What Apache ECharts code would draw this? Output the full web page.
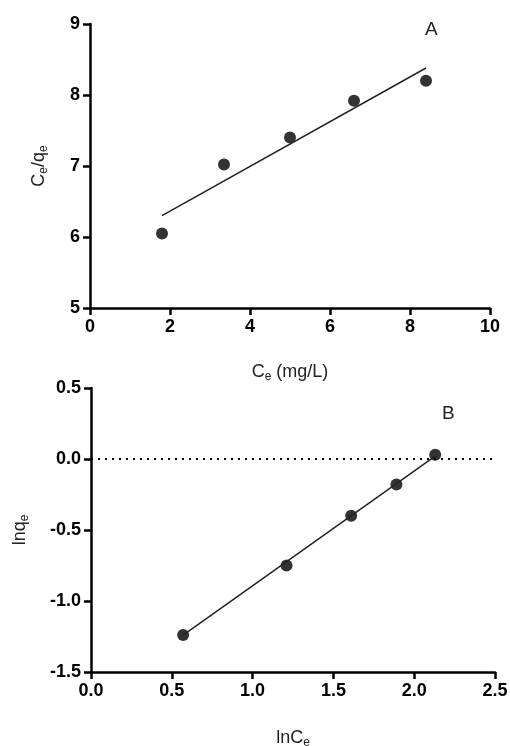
<!DOCTYPE html>
<html><head><meta charset="utf-8">
<script src="https://cdn.jsdelivr.net/npm/echarts@6/dist/echarts.min.js"></script>
<style>html,body{margin:0;background:#fff}#c{width:510px;height:746px}</style>
</head><body><div id="c"></div>
<script>
// Panel A: Langmuir
const ceA = [1.8, 3.35, 5.0, 6.6, 8.4];
const ceqeA = [6.05, 7.02, 7.4, 7.92, 8.2];
const fitA = [[1.8, 6.3], [8.4, 8.38]];
// Panel B: Freundlich
const lnCe = [0.57, 1.21, 1.61, 1.89, 2.13];
const lnQe = [-1.24, -0.75, -0.40, -0.18, 0.03];
const fitB = [[0.57, -1.24], [2.13, 0.02]];

const font = 'Arial, Liberation Sans, sans-serif';
const axisLine = { show: true, onZero: false, lineStyle: { color: '#000', width: 2.5 } };
const tick = { show: true, inside: false, length: 7, lineStyle: { color: '#000', width: 2.5 } };
const lbl = { color: '#000', fontSize: 18, fontWeight: 'bold', fontFamily: font, margin: 10 };
const rich = { s: { fontSize: 12, verticalAlign: 'bottom', padding: [9, 0, 0, 0], color: '#222', fontFamily: font } };
const nameStyle = { color: '#222', fontSize: 18, fontFamily: font, rich: rich };
const fmt1 = Object.assign({}, lbl, { formatter: v => v.toFixed(1) });

const chart = echarts.init(document.getElementById('c'));
chart.setOption({
  animation: false,
  grid: [
    { left: 90, right: 20, top: 24, bottom: 438, outerBoundsMode: 'none', containLabel: false },
    { left: 91, right: 15, top: 388, bottom: 74, outerBoundsMode: 'none', containLabel: false }
  ],
  xAxis: [
    { gridIndex: 0, type: 'value', min: 0, max: 10, interval: 2, axisLine, axisTick: tick, axisLabel: lbl, splitLine: { show: false },
      name: 'C{s|e} (mg/L)', nameLocation: 'middle', nameGap: 54, nameTextStyle: nameStyle },
    { gridIndex: 1, type: 'value', min: 0, max: 2.5, interval: 0.5, axisLine, axisTick: tick, axisLabel: fmt1, splitLine: { show: false },
      name: 'lnC{s|e}', nameLocation: 'middle', nameGap: 56, nameTextStyle: nameStyle }
  ],
  yAxis: [
    { gridIndex: 0, type: 'value', min: 5, max: 9, interval: 1, axisLine, axisTick: tick, axisLabel: lbl, splitLine: { show: false },
      name: 'C{s|e}/q{s|e}', nameLocation: 'middle', nameGap: 40, nameTextStyle: nameStyle },
    { gridIndex: 1, type: 'value', min: -1.5, max: 0.5, interval: 0.5, axisLine, axisTick: tick, axisLabel: fmt1, splitLine: { show: false },
      name: 'lnq{s|e}', nameLocation: 'middle', nameGap: 60, nameTextStyle: nameStyle }
  ],
  series: [
    { type: 'line', xAxisIndex: 0, yAxisIndex: 0, data: fitA, symbol: 'none', lineStyle: { color: '#222', width: 1.5 } },
    { type: 'scatter', xAxisIndex: 0, yAxisIndex: 0, data: ceA.map((x, i) => [x, ceqeA[i]]), symbolSize: 12, itemStyle: { color: '#000' } },
    { type: 'line', xAxisIndex: 1, yAxisIndex: 1, data: fitB, symbol: 'none', lineStyle: { color: '#222', width: 1.5 },
      markLine: { silent: true, symbol: 'none', label: { show: false }, lineStyle: { type: [2, 5], color: '#000', width: 2 }, data: [{ yAxis: 0 }] } },
    { type: 'scatter', xAxisIndex: 1, yAxisIndex: 1, data: lnCe.map((x, i) => [x, lnQe[i]]), symbolSize: 12, itemStyle: { color: '#000' } }
  ],
  graphic: [
    { type: 'text', left: 425, top: 20, style: { text: 'A', fontSize: 19, fill: '#222', fontFamily: font } },
    { type: 'text', left: 442, top: 404, style: { text: 'B', fontSize: 19, fill: '#222', fontFamily: font } }
  ]
});
</script></body></html>
